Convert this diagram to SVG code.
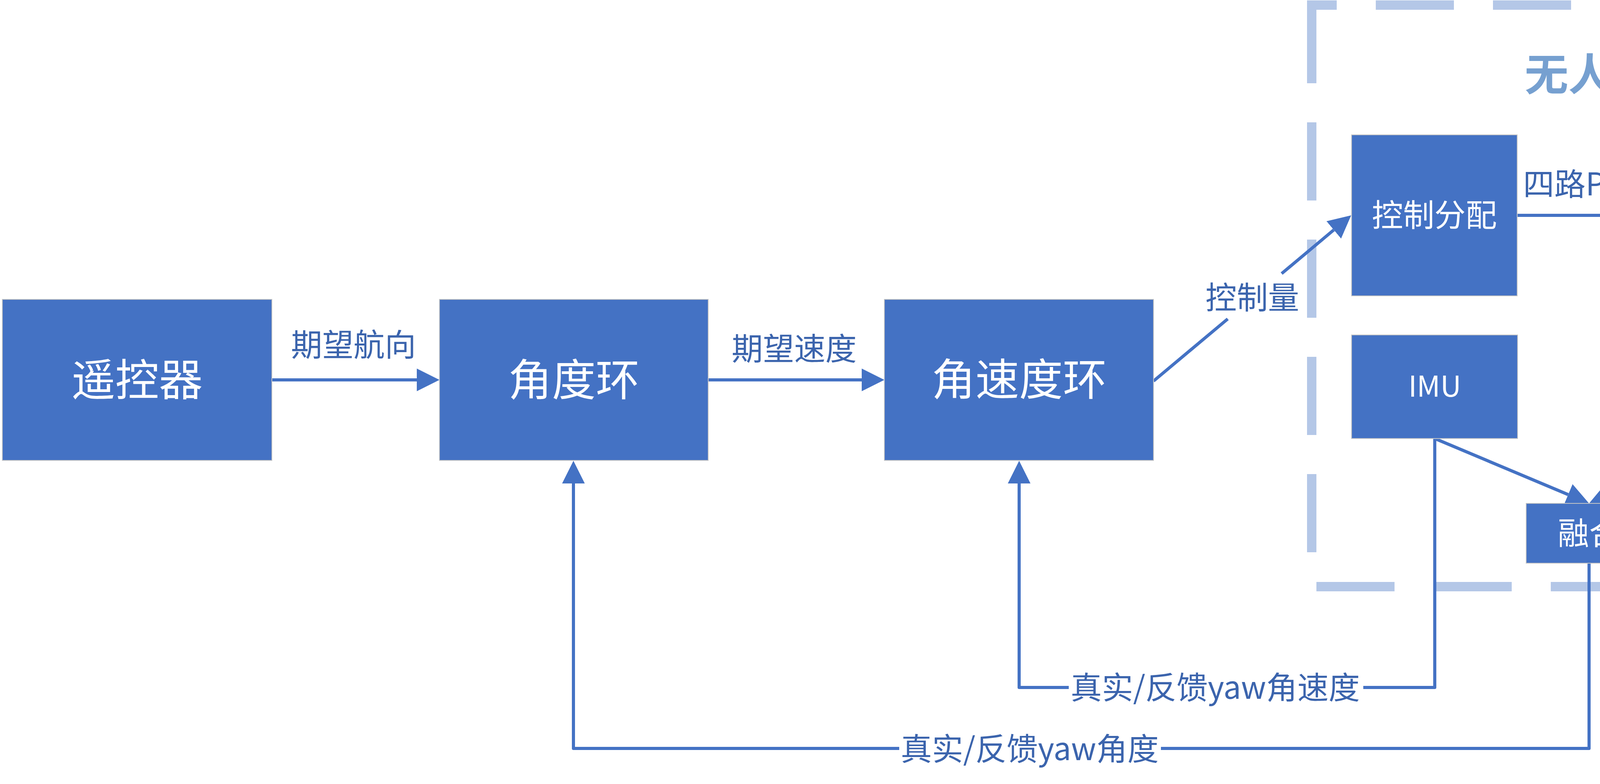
<svg xmlns="http://www.w3.org/2000/svg" width="4769" height="2006" viewBox="0 0 4769 2006">
<defs>
<style>
.box{fill:#4472C4;stroke:#C4C4C4;stroke-width:2}
.bt{font-family:"Noto Sans CJK SC","Microsoft YaHei",sans-serif;fill:#FFFFFF;text-anchor:middle}
.lb{font-family:"Noto Sans CJK SC","Microsoft YaHei",sans-serif;fill:#3B64AD;text-anchor:middle;font-size:80px}
.cn{fill:none;stroke:#4472C4;stroke-width:8;stroke-linejoin:round}
</style>
<marker id="ah" markerUnits="userSpaceOnUse" markerWidth="60" markerHeight="60" refX="0" refY="29" orient="auto" viewBox="0 0 60 60">
<path d="M0,0 L58,29 L0,58 Z" fill="#4472C4"/>
</marker>
</defs>
<rect width="4769" height="2006" fill="#FFFFFF"/>
<g id="drone-frame">
<path d="M3358,13 V1501 H4752 V13 Z" fill="none" stroke="#B4C7E7" stroke-width="24" stroke-dasharray="200 100"/>
<text class="bt" x="4071" y="232" font-size="112" font-weight="bold" style="fill:#76A0D0">无人机</text>
</g>
<g id="connectors">
<path class="cn" d="M696,972 H1067" marker-end="url(#ah)"/>
<path class="cn" d="M1813,972 H2206" marker-end="url(#ah)"/>
<path class="cn" d="M2953,975 L3143,816"/>
<path class="cn" d="M3281,700 L3414.5,588.3" marker-end="url(#ah)"/>
<path class="cn" d="M3884,551 H4211" marker-end="url(#ah)"/>
<path class="cn" d="M3673,1122 L4014.5,1265.5" marker-end="url(#ah)"/>
<path class="cn" d="M4473,1112 L4121.2,1264.9" marker-end="url(#ah)"/>
<path class="cn" d="M3673,1122 V1759 H3490"/>
<path class="cn" d="M2736,1759 H2609 V1237" marker-end="url(#ah)"/>
<path class="cn" d="M4068,1441 V1915 H2972"/>
<path class="cn" d="M2302,1915 H1468 V1237" marker-end="url(#ah)"/>
<text class="lb" x="905" y="911">期望航向</text>
<text class="lb" x="2033" y="921">期望速度</text>
<text class="lb" x="3206" y="790">控制量</text>
<text class="lb" x="4072" y="500">四路PWM</text>
<text class="lb" x="3111" y="1788">真实/反馈yaw角速度</text>
<text class="lb" x="2636" y="1945">真实/反馈yaw角度</text>
</g>
<g id="remote">
<rect class="box" x="6" y="766" width="690" height="412"/>
<text class="bt" x="351" y="1013" font-size="112">遥控器</text>
</g>
<g id="angle-loop">
<rect class="box" x="1125" y="766" width="688" height="412"/>
<text class="bt" x="1469" y="1013" font-size="112">角度环</text>
</g>
<g id="rate-loop">
<rect class="box" x="2264" y="766" width="689" height="412"/>
<text class="bt" x="2609" y="1012" font-size="112">角速度环</text>
</g>
<g id="mixer">
<rect class="box" x="3460" y="345" width="424" height="412"/>
<text class="bt" x="3672" y="579" font-size="80">控制分配</text>
</g>
<g id="motor">
<rect class="box" x="4269" y="345" width="425" height="412"/>
<text class="bt" x="4482" y="578" font-size="80">电机</text>
</g>
<g id="imu">
<rect class="box" x="3460" y="857" width="425" height="265"/>
<text class="bt" x="3673" y="1015" font-size="74">IMU</text>
</g>
<g id="magnetometer">
<rect class="box" x="4263" y="846" width="423" height="266"/>
<text class="bt" x="4474" y="1008" font-size="80">磁力计</text>
</g>
<g id="fusion">
<rect class="box" x="3907" y="1288" width="322" height="153"/>
<text class="bt" x="4068" y="1393" font-size="80">融合</text>
</g>
</svg>
